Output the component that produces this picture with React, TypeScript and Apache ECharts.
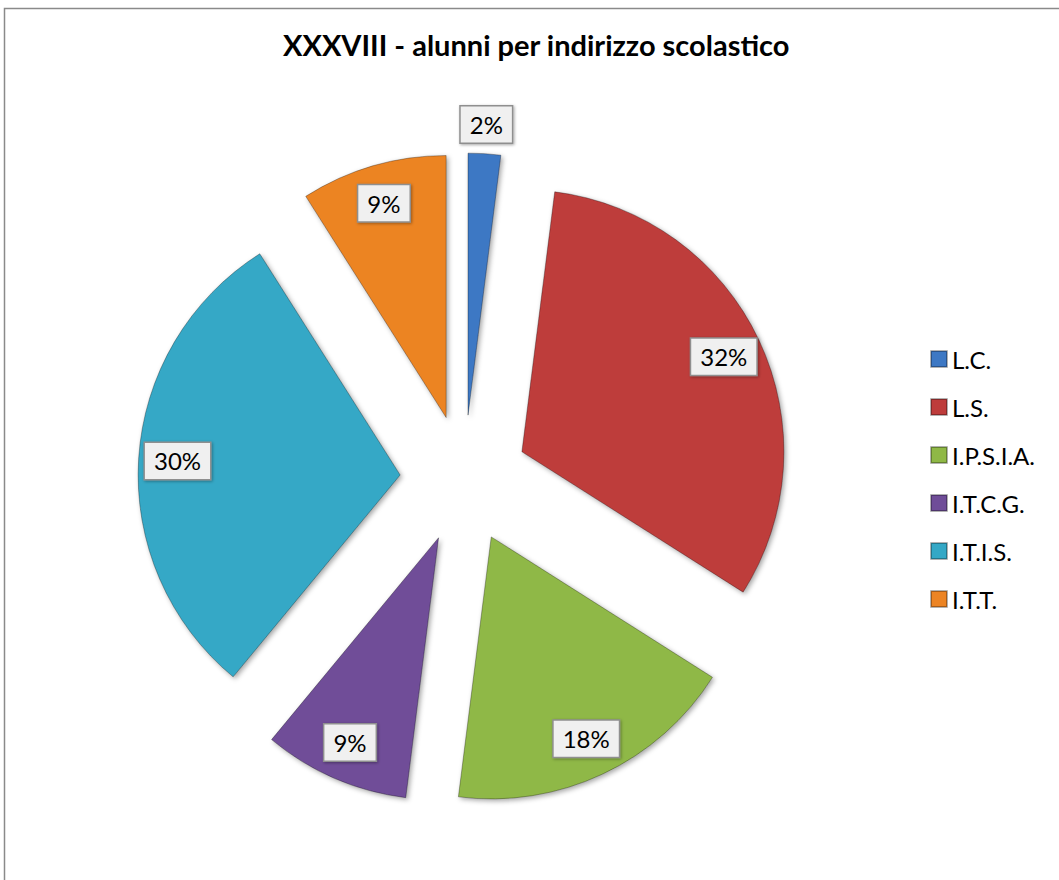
import React, { useEffect, useRef } from "react";
import * as echarts from "echarts";

const categories = ["L.C.", "L.S.", "I.P.S.I.A.", "I.T.C.G.", "I.T.I.S.", "I.T.T."];
const percentValues = [2, 32, 18, 9, 30, 9];
const sliceColors = ["#3d78c4", "#be3c3b", "#8fb846", "#6f4d98", "#34a8c6", "#ec8424"];
const outerLabelCategories = ["L.C."];
const titleText = "XXXVIII - alunni per indirizzo scolastico";

const FONT = "Lato, 'Open Sans', sans-serif";

export default function App() {
  const ref = useRef<HTMLDivElement>(null);
  useEffect(() => {
    if (!ref.current) return;
    const chart = echarts.init(ref.current, undefined, { renderer: "svg" });
    const R = 262;
    const center = [464, 479];
    const offset = 64;

    const labelStyle = {
      show: true,
      position: "inside",
      formatter: "{c}%",
      fontFamily: FONT,
      fontSize: 24,
      color: "#000000",
      backgroundColor: "#f0f0f0",
      borderColor: "#8f8f8f",
      borderWidth: 1.5,
      padding: [7, 9, 5, 9],
      shadowBlur: 3,
      shadowColor: "rgba(0,0,0,0.35)",
      shadowOffsetX: 1,
      shadowOffsetY: 1,
    };

    const mainData = categories.map((name, i) => ({
      name,
      value: percentValues[i],
      selected: true,
      itemStyle: { color: sliceColors[i] },
    }));

    const innerLabelData = categories.map((name, i) => ({
      name,
      value: percentValues[i],
      selected: true,
      label: { show: !outerLabelCategories.includes(name) },
    }));

    const outerLabelData = categories.map((name, i) => ({
      name,
      value: percentValues[i],
      selected: true,
      label: { show: outerLabelCategories.includes(name) },
    }));

    const labelSeriesBase = {
      type: "pie",
      center,
      startAngle: 90,
      clockwise: true,
      selectedMode: "multiple",
      selectedOffset: offset,
      silent: true,
      emphasis: { scale: false },
      itemStyle: { color: "rgba(0,0,0,0)" },
      labelLine: { show: false },
      label: labelStyle,
    };

    chart.setOption({
      animation: false,
      backgroundColor: "#ffffff",
      title: {
        text: titleText,
        left: 283,
        top: 30,
        padding: 0,
        textStyle: {
          fontFamily: FONT,
          fontWeight: "bold",
          fontSize: 29,
          color: "#000000",
        },
      },
      legend: {
        orient: "vertical",
        left: 930,
        top: 347,
        padding: 0,
        icon: "rect",
        itemWidth: 16,
        itemHeight: 16,
        itemGap: 24,
        data: categories,
        selectedMode: false,
        textStyle: {
          fontFamily: FONT,
          fontSize: 24,
          color: "#000000",
          lineHeight: 24,
        },
      },
      graphic: [
        {
          type: "rect",
          shape: { x: 4.5, y: 8.5, width: 1100, height: 900 },
          style: { fill: "none", stroke: "#8a8a8a", lineWidth: 1.5 },
          silent: true,
        },
      ],
      series: [
        {
          type: "pie",
          name: "main",
          center,
          radius: [0, R],
          startAngle: 90,
          clockwise: true,
          selectedMode: "multiple",
          selectedOffset: offset,
          silent: true,
          label: { show: false },
          labelLine: { show: false },
          emphasis: { scale: false },
          itemStyle: {
            borderColor: "rgba(0,0,0,0.3)",
            borderWidth: 1,
            shadowBlur: 5,
            shadowColor: "rgba(0,0,0,0.35)",
            shadowOffsetX: 2,
            shadowOffsetY: 2,
          },
          data: mainData,
        },
        {
          ...labelSeriesBase,
          name: "labels",
          radius: [R * 0.68, R],
          data: innerLabelData,
        },
        {
          ...labelSeriesBase,
          name: "outerLabels",
          radius: [R * 1.0, R * 1.2],
          data: outerLabelData,
        },
      ],
    });
    return () => chart.dispose();
  }, []);
  return (
    <div
      ref={ref}
      style={{ position: "fixed", left: 0, top: 0, width: 1059, height: 880 }}
    />
  );
}
